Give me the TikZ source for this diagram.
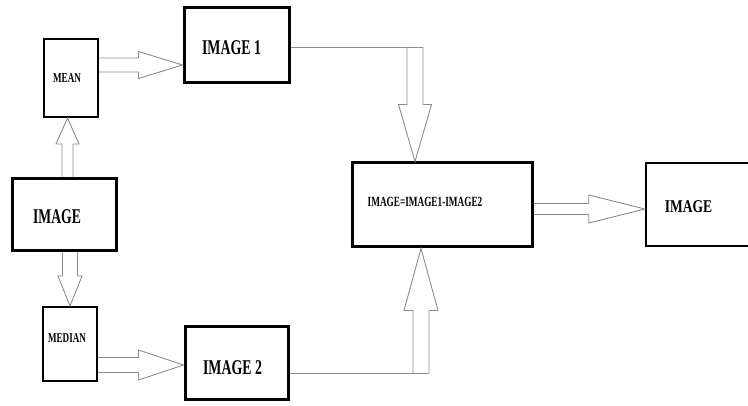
\documentclass[tikz,border=0pt]{standalone}
\usepackage{fontspec}
\setmainfont{Liberation Serif}
\usetikzlibrary{calc}
\tikzset{
  box/.style={draw=black, rectangle, inner sep=0pt, fill=white},
  thickbox/.style={box, line width=3pt},
  thinbox/.style={box, line width=2pt},
  blk/.style={draw=black!45, line width=0.9pt, line join=miter},
  lbl/.style={anchor=base, inner sep=0pt},
}
\newcommand{\lbltext}[3]{\scalebox{#1}[1]{\fontsize{#2}{#2}\selectfont\bfseries #3}}
% block arrow: start, tip, shaft half width, head half width, head length
\newcommand{\barrow}[5]{%
  \path ($(#2)!#5!(#1)$) coordinate (hb);
  \draw[blk] ($(#1)!#3!90:(#2)$) -- ($(hb)!#3!90:(#2)$) -- ($(hb)!#4!90:(#2)$) -- (#2)
    -- ($(hb)!#4!-90:(#2)$) -- ($(hb)!#3!-90:(#2)$) -- ($(#1)!#3!-90:(#2)$);
}
\begin{document}
\begin{tikzpicture}[x=1pt, y=-1pt]
\useasboundingbox (0,0) rectangle (748,406);
\clip (0,0) rectangle (748,406);
\fill[white] (0,0) rectangle (748,406);

% boxes
\node[thinbox, minimum width=54pt, minimum height=78pt] (mean) at (71,78) {};
\node[thickbox, minimum width=105pt, minimum height=75pt] (img1) at (236.5,45.5) {};
\node[thickbox, minimum width=104pt, minimum height=72pt] (image) at (64,215) {};
\node[thinbox, minimum width=54pt, minimum height=74pt] (median) at (70,344) {};
\node[thickbox, minimum width=103pt, minimum height=73pt] (img2) at (236.5,363.5) {};
\node[thickbox, minimum width=180pt, minimum height=84pt] (ctr) at (442,205) {};
\node[box, line width=2.5pt, minimum width=120pt, minimum height=83pt] (fin) at (706,204.5) {};

% labels
\node[lbl] (tmean) at (67,83) {\lbltext{0.67}{13.5}{MEAN}};
\node[lbl] (timg1) at (231.5,55) {\lbltext{0.66}{21}{IMAGE 1}};
\node[lbl] (timage) at (57,224) {\lbltext{0.65}{21}{IMAGE}};
\node[lbl] (tmedian) at (67,343) {\lbltext{0.67}{13.5}{MEDIAN}};
\node[lbl] (timg2) at (232.5,375) {\lbltext{0.66}{21}{IMAGE 2}};
\node[lbl] (tctr) at (425,207) {\lbltext{0.66}{14}{IMAGE=IMAGE1-IMAGE2}};
\node[lbl] (tfin) at (688.5,213) {\lbltext{0.75}{18}{IMAGE}};

% connector coordinates
\coordinate (a1s) at (mean.east |- 0,65);
\coordinate (a1t) at (img1.west |- 0,65);
\coordinate (a2s) at (67.5,0 |- image.north);
\coordinate (a2t) at (67.5,0 |- mean.south);
\coordinate (a3s) at (70,0 |- image.south);
\coordinate (a3t) at (70,0 |- median.north);
\coordinate (a4s) at (median.east |- 0,365);
\coordinate (a4t) at (img2.west |- 0,365);
\coordinate (l5s) at (img1.east |- 0,47);
\coordinate (l5e) at (423,47);
\coordinate (a5s) at (415,47);
\coordinate (a5t) at (415,0 |- ctr.north);
\coordinate (l6s) at (img2.east |- 0,373);
\coordinate (l6e) at (429,373);
\coordinate (a6s) at (421,373);
\coordinate (a6t) at (421,0 |- ctr.south);
\coordinate (a7s) at (ctr.east |- 0,209);
\coordinate (a7t) at (fin.west |- 0,209);

% connectors
\barrow{a1s}{a1t}{7pt}{13.5pt}{44pt}
\barrow{a2s}{a2t}{5.5pt}{11.5pt}{26pt}
\barrow{a3s}{a3t}{7.5pt}{12pt}{30pt}
\barrow{a4s}{a4t}{7.5pt}{15pt}{45pt}
\draw[blk] (l5s) -- (l5e);
\barrow{a5s}{a5t}{8pt}{16.5pt}{57pt}
\draw[blk] (l6s) -- (l6e);
\barrow{a6s}{a6t}{8pt}{17pt}{62pt}
\barrow{a7s}{a7t}{5.5pt}{14pt}{56pt}
\end{tikzpicture}
\end{document}
